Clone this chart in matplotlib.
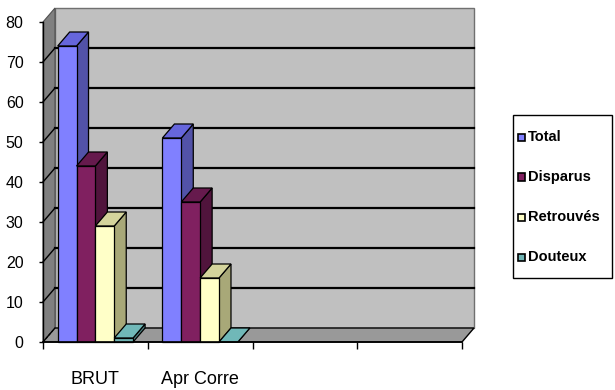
import matplotlib
matplotlib.use("Agg")
import matplotlib.pyplot as plt
from matplotlib.patches import Polygon, Rectangle

# data
categories = ["BRUT", "Apr Corre", "", ""]
series = ["Total", "Disparus", "Retrouvés", "Douteux"]
total = [74, 51]
disparus = [44, 35]
retrouves = [29, 16]
douteux = [1, 0]
values = [total, disparus, retrouves, douteux]

# colours: front, top, side
colors = {
    "Total": ("#8080FF", "#6666DC", "#5252A8"),
    "Disparus": ("#802060", "#661A4D", "#50143C"),
    "Retrouvés": ("#FFFFC8", "#D4D49C", "#A8A878"),
    "Douteux": ("#70B4B4", "#70B8B8", "#4C8080"),
}

narrow = ["Liberation Sans Narrow", "Liberation Sans", "DejaVu Sans"]

W, H = 615, 390
fig = plt.figure(figsize=(W / 100, H / 100), dpi=100)
ax = fig.add_axes([43 / W, 1 - 342 / H, 419 / W, 320 / H])
ymax = 80
ax.set_xlim(0, len(categories))
ax.set_ylim(0, ymax)

dx, dy = 0.1146, 3.5   # depth offset in data units
n = len(categories)

# walls and floor
ax.add_patch(Rectangle((dx, dy), n, ymax, fc="#C0C0C0", ec="#707070",
                       lw=1.0, clip_on=False, zorder=0))
ax.add_patch(Polygon([(0, 0), (dx, dy), (dx, ymax + dy), (0, ymax)],
                     closed=True, fc="#808080", ec="#505050", lw=0.8,
                     clip_on=False, zorder=0))
ax.add_patch(Polygon([(0, 0), (n, 0), (n + dx, dy), (dx, dy)], closed=True,
                     fc="#999999", ec="black", lw=1.0, clip_on=False, zorder=0))
ax.plot([0, dx], [0, dy], color="black", lw=0.8, ls=(0, (2, 2)),
        clip_on=False, zorder=1)
for v in range(10, ymax, 10):
    ax.plot([dx, n + dx], [v + dy, v + dy], color="black", lw=1.6,
            clip_on=False, zorder=1)
    ax.plot([0, dx], [v, v + dy], color="black", lw=1.0, clip_on=False,
            zorder=1)

# bars
bw = 0.18
off = 0.5 - bw * len(series) / 2
z = 2
for ci in range(len(total)):
    for si, name in enumerate(series):
        h = values[si][ci]
        x0 = ci + off + si * bw
        front, top, side = colors[name]
        ax.add_patch(Polygon([(x0 + bw, 0), (x0 + bw + dx, dy),
                              (x0 + bw + dx, h + dy), (x0 + bw, h)],
                             closed=True, fc=side, ec="black", lw=0.9,
                             clip_on=False, zorder=z))
        ax.add_patch(Polygon([(x0, h), (x0 + bw, h), (x0 + bw + dx, h + dy),
                              (x0 + dx, h + dy)], closed=True, fc=top,
                             ec="black", lw=0.9, clip_on=False, zorder=z))
        if h > 0:
            ax.add_patch(Rectangle((x0, 0), bw, h, fc=front, ec="black",
                                   lw=0.9, clip_on=False, zorder=z))
        z += 1

# axes styling
for s in ["top", "right"]:
    ax.spines[s].set_visible(False)
ax.spines["left"].set_linewidth(1.0)
ax.spines["bottom"].set_linewidth(1.2)
ax.spines["left"].set_zorder(50)
ax.spines["bottom"].set_zorder(50)
ax.set_yticks(range(0, ymax + 1, 10))
ax.tick_params(axis="y", direction="out", length=3, width=1, pad=11)
ax.set_xticks(range(n + 1))
ax.set_xticklabels([])
ax.tick_params(axis="x", which="major", direction="out", length=5, width=1)
ax.set_xticks([i + 0.5 for i in range(n)], minor=True)
ax.set_xticklabels(categories, minor=True)
ax.tick_params(axis="x", which="minor", length=0, pad=21)
for lab in ax.get_yticklabels():
    lab.set_fontfamily(narrow)
    lab.set_fontsize(11.5)
for lab in ax.get_xticklabels(minor=True):
    lab.set_fontfamily(narrow)
    lab.set_fontsize(13)
ax.set_facecolor("none")

# legend
def fx(px):
    return px / W


def fy(py):
    return 1 - py / H


fig.patches.append(Rectangle((fx(513), fy(278)), fx(612) - fx(513),
                             fy(115) - fy(278), transform=fig.transFigure,
                             fc="white", ec="black", lw=1.0))
for i, name in enumerate(series):
    yc = 137 + 40 * i
    fig.text(fx(528), fy(yc), name, ha="left", va="center", fontsize=10.5,
             fontweight="bold", family=["Liberation Sans", "DejaVu Sans"])
    fig.patches.append(Rectangle((fx(518), fy(yc + 3.5)), 7 / W, 7 / H,
                                 transform=fig.transFigure,
                                 fc=colors[name][0], ec="black", lw=1.2))

fig.savefig("out.png", dpi=100)
